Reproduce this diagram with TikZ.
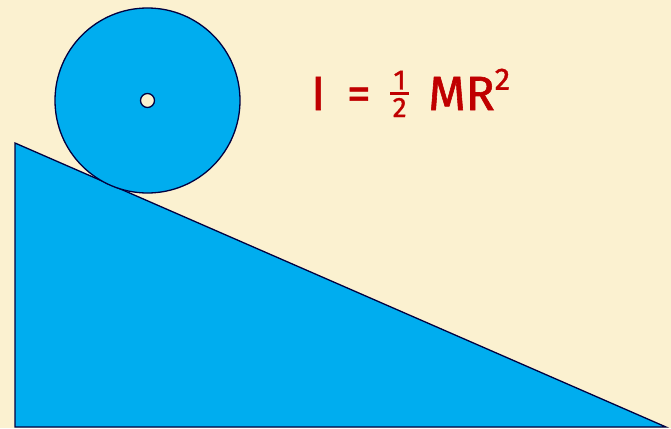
\documentclass[tikz,border=0pt]{standalone}
\usepackage{fontspec}
\setmainfont{Fira Sans}
\usepackage{tikz}
\usetikzlibrary{calc}
\definecolor{paper}{RGB}{251,241,208}
\definecolor{skyblue}{RGB}{0,173,239}
\definecolor{navy}{RGB}{0,0,64}
\definecolor{formulared}{RGB}{192,0,0}
\newcommand{\halfstack}{\raisebox{-7pt}{\vbox{\offinterlineskip\fontsize{28}{28}\selectfont
  \hbox to 19pt{\hss 1\hss}\kern2.5pt
  \hbox{\rule{19pt}{3pt}}\kern3pt
  \hbox to 19pt{\hss 2\hss}}}}

\begin{document}
\begin{tikzpicture}[
  x=1pt, y=-1pt,
  solid/.style={draw=navy, line width=1.3pt, fill=skyblue},
  formula/.style={text=formulared, font=\fontsize{48}{52}\selectfont\addfontfeatures{FakeBold=1.2}, inner sep=0pt, anchor=base west}
]
% background
\fill[paper] (0,0) rectangle (671,428);
\useasboundingbox (0,0) rectangle (671,428);

% incline
\coordinate (top) at (15,143);
\coordinate (corner) at (15,427);
\coordinate (foot) at (666,427);
\draw[solid, line join=miter] (top) -- (corner) -- (foot) -- cycle;

% rolling disc
\node[solid, circle, minimum size=185pt, inner sep=0pt] (disc) at (147.5,100.5) {};
\node[draw=navy, line width=1.3pt, fill=paper, circle, minimum size=14pt, inner sep=0pt] (axle) at (disc.center) {};

% moment of inertia
\node[formula] (inertia) at (311,110) {I\hspace{0.45em}=\hspace{0.4em}\halfstack\hspace{0.4em}MR\raisebox{0.8ex}{\fontsize{31}{31}\selectfont 2}};
\end{tikzpicture}
\end{document}
